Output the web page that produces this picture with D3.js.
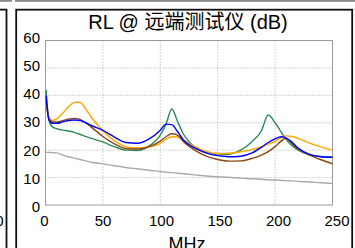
<!DOCTYPE html>
<html>
<head>
<meta charset="utf-8">
<script src="https://cdn.jsdelivr.net/npm/d3@7"></script>
<style>
  html, body { margin: 0; padding: 0; background: #fff; overflow: hidden; }
  svg { display: block; font-family: "Liberation Sans", Arial, sans-serif; }
</style>
</head>
<body>
<svg id="chart" width="355" height="248"></svg>
<script>
// Frequency points (MHz) shared by all traces
const freq = [0.5, 3, 6, 10, 15, 20, 25, 30, 35, 40, 50, 60, 70, 80, 90, 100, 105, 110, 115, 120,
  130, 140, 150, 160, 170, 180, 188, 194, 200, 205, 209, 215, 220, 230, 240, 250];

// Return loss traces (dB)
const orange = [37, 32, 30.8, 31.5, 33.5, 35.8, 37.4, 37.5, 35, 32, 27, 23.5, 21.3, 20.8, 21.2, 22.5, 24, 24.9, 24.8, 23.6,
  21.3, 19.5, 18.8, 18.9, 19.4, 20.3, 21.2, 22.2, 23.2, 24.5, 25.2, 25, 24.3, 22.6, 21.2, 20];
const blue = [40, 31, 29.8, 29.8, 30.3, 30.8, 31, 30.8, 30, 29, 27.2, 24.8, 22.8, 22.5, 24, 27.3, 29.5, 29.3, 26.8, 23.8,
  20.8, 19, 18, 17.6, 17.8, 19, 21, 22.8, 24.1, 24.9, 24.6, 22.8, 20.8, 18.5, 17.6, 17.4];
const green = [42, 31, 28.5, 27.8, 27.3, 27, 26.5, 25.8, 25, 24.3, 23, 21.3, 20, 19.9, 21.5, 25.5, 29.5, 35, 30.5, 26,
  21.2, 19, 18.2, 18.5, 20, 23.2, 27, 32.8, 30, 26.8, 24.2, 21.5, 20, 18.3, 17.7, 17.5];
const brown = [38, 31.5, 30.3, 30.3, 30.8, 31.3, 31.6, 31.2, 30, 28.4, 25, 22.3, 20.6, 20.4, 21.2, 23.3, 24.9, 26, 25.5, 23.2,
  20, 17.8, 16.6, 16, 16.1, 17, 18.2, 19.5, 21.3, 23.2, 24.3, 22.3, 20.4, 18.2, 16.5, 15];
const limit = [19.2, 19.2, 19.1, 19, 18.2, 17.6, 17.1, 16.6, 16.1, 15.6, 15, 14.3, 13.7, 13.2, 12.7, 12.2, 12, 11.8, 11.6, 11.4,
  11, 10.6, 10.3, 10.1, 9.8, 9.6, 9.4, 9.2, 9.1, 9, 8.9, 8.8, 8.6, 8.4, 8.1, 7.9];

const xTicks = [0, 50, 100, 150, 200, 250];
const yTicks = [0, 10, 20, 30, 40, 50, 60];

const series = [
  { values: limit, color: "#aaaaaa" },
  { values: green, color: "#2e8b57" },
  { values: orange, color: "#ffa500" },
  { values: brown, color: "#8b4513" },
  { values: blue, color: "#0000ff" }
];

const svg = d3.select("#chart");

// Remnants of neighbouring panels
svg.append("rect").attr("x", 0).attr("y", 0).attr("width", 12).attr("height", 1.8).attr("fill", "#888");
svg.append("rect").attr("x", 15).attr("y", 0).attr("width", 340).attr("height", 1.8).attr("fill", "#888");
svg.append("path")
  .attr("d", "M0,9.7H6.5V260")
  .attr("fill", "none")
  .attr("stroke", "#111")
  .attr("stroke-width", 1.8);
svg.append("text")
  .attr("x", 3.5).attr("y", 226)
  .attr("text-anchor", "end")
  .style("font-size", "15px")
  .text("250");

// Main panel frame
svg.append("rect")
  .attr("x", 16.2).attr("y", 9.7)
  .attr("width", 336).attr("height", 260)
  .attr("fill", "none")
  .attr("stroke", "#111")
  .attr("stroke-width", 1.8);

const margin = { left: 45.5, top: 40.5, right: 332.5, bottom: 205 };

const x = d3.scaleLinear().domain([0, 250]).range([margin.left, margin.right]);
const y = d3.scaleLinear().domain([0, 60]).range([margin.bottom, margin.top]);

// Tick labels are spread a little wider than the grid in the original
const xLab = d3.scaleLinear().domain([0, 250]).range([44.5, 337]);
const yLab = d3.scaleLinear().domain([0, 60]).range([206.5, 37.5]);

// Grid
svg.append("g")
  .selectAll("line")
  .data(xTicks.slice(1, -1))
  .enter().append("line")
  .attr("x1", d => x(d)).attr("x2", d => x(d))
  .attr("y1", margin.top).attr("y2", margin.bottom)
  .attr("stroke", "#aaa")
  .attr("stroke-dasharray", "1,2");

svg.append("g")
  .selectAll("line")
  .data(yTicks.slice(1, -1))
  .enter().append("line")
  .attr("y1", d => y(d)).attr("y2", d => y(d))
  .attr("x1", margin.left).attr("x2", margin.right)
  .attr("stroke", "#aaa")
  .attr("stroke-dasharray", "1,2");

// Plot frame
svg.append("rect")
  .attr("x", margin.left).attr("y", margin.top)
  .attr("width", margin.right - margin.left)
  .attr("height", margin.bottom - margin.top)
  .attr("fill", "none")
  .attr("stroke", "#999");

// Tick labels
svg.append("g")
  .selectAll("text")
  .data(yTicks)
  .enter().append("text")
  .attr("x", margin.left - 5.5)
  .attr("y", d => yLab(d))
  .attr("dy", "0.36em")
  .attr("text-anchor", "end")
  .style("font-size", "15px")
  .text(d => d);

svg.append("g")
  .selectAll("text")
  .data(xTicks)
  .enter().append("text")
  .attr("x", d => xLab(d))
  .attr("y", 226)
  .attr("text-anchor", "middle")
  .style("font-size", "15px")
  .text(d => d);

// Traces
const line = d3.line()
  .x((d, i) => x(freq[i]))
  .y(d => y(d))
  .curve(d3.curveMonotoneX);

svg.append("g")
  .selectAll("path")
  .data(series)
  .enter().append("path")
  .attr("d", d => line(d.values))
  .attr("fill", "none")
  .attr("stroke", d => d.color)
  .attr("stroke-width", 1.4);

// Titles
svg.append("text")
  .attr("x", 188).attr("y", 29.3)
  .attr("text-anchor", "middle")
  .style("font-size", "20px")
  .style("font-family", "'Liberation Sans', 'Noto Sans CJK SC', sans-serif")
  .text("RL @ 远端测试仪 (dB)");

svg.append("text")
  .attr("x", 187).attr("y", 250)
  .attr("text-anchor", "middle")
  .style("font-size", "18px")
  .text("MHz");
</script>
</body>
</html>
